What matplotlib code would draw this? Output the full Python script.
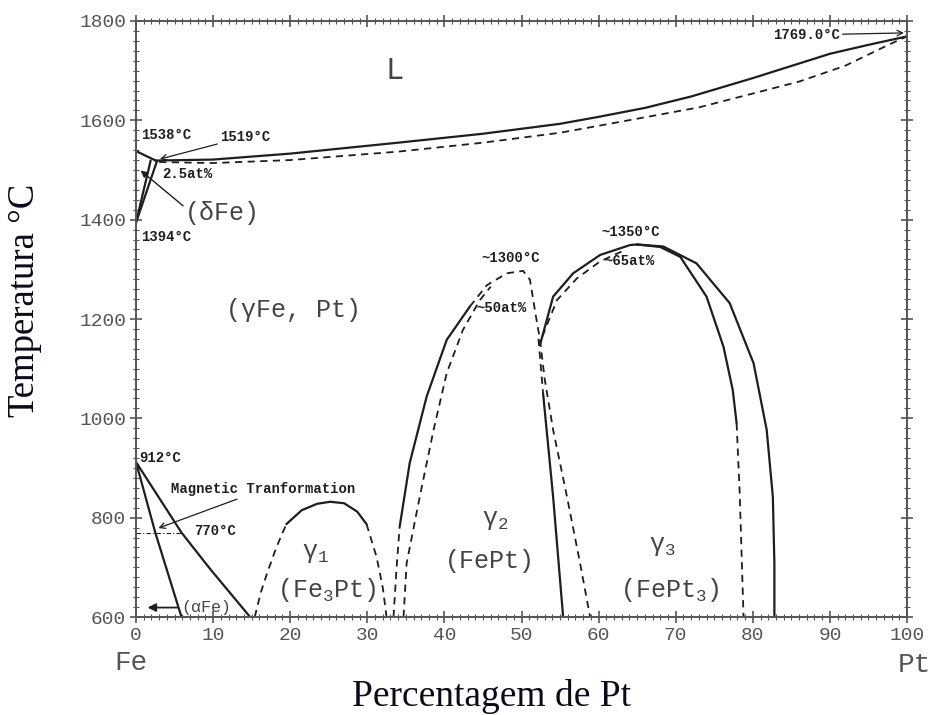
import matplotlib
matplotlib.use("Agg")
import matplotlib.pyplot as plt
from matplotlib.ticker import MultipleLocator

plt.rcParams['mathtext.fontset'] = 'custom'
plt.rcParams['mathtext.rm'] = 'Liberation Mono'
plt.rcParams['mathtext.it'] = 'Liberation Mono'

MONO = 'Liberation Mono'
SERIF = 'Liberation Serif'
INK = '#1e1e1e'
GREY = '#555555'

# liquidus (solid) and solidus (dashed), at% Pt vs degC
liq_x = [2.5, 10, 20, 34, 45, 55, 60, 66, 72, 80, 90, 95, 100]
liq_t = [1519, 1521, 1533, 1555, 1573, 1593, 1607, 1625, 1648, 1685, 1734, 1752, 1769]
sol_x = [3, 10, 20, 34, 45, 55, 60, 73, 86, 92, 98, 100]
sol_t = [1516, 1514, 1520, 1537, 1555, 1575, 1589, 1626, 1678, 1710, 1755, 1769]

# delta Fe corner
dl_x = [0, 2.7]
dl_t = [1538, 1518]
dg1_x = [0, 1.9]
dg1_t = [1394, 1519]
dg2_x = [0, 2.7]
dg2_t = [1394, 1517]

# alpha Fe boundaries
a_in_x = [0, 2.5, 5.9]
a_in_t = [912, 770, 600]
a_out_x = [0, 5.9, 9.6, 14.8]
a_out_t = [912, 770, 697, 600]
mag_x = [0, 5.9]
mag_t = [770, 770]

# gamma1 (Fe3Pt)
g1l_x = [15.4, 16.2, 17.0, 18.2, 19.5]
g1l_t = [600, 650, 688, 740, 787]
g1s_x = [19.5, 21.5, 23.5, 25.2, 27.0, 28.7, 29.9]
g1s_t = [787, 815, 828, 832, 829, 812, 787]
g1r_x = [29.9, 31.2, 32.0, 32.5]
g1r_t = [787, 721, 660, 600]

# gamma2 (FePt)
g2a_x = [33.4, 33.8, 34.2]
g2a_t = [600, 700, 782]
g2b_x = [34.2, 35.5, 37.7, 40.3, 43.3]
g2b_t = [782, 910, 1044, 1158, 1225]
g2c_x = [43.3, 45.5, 48.1, 50.2, 51.1, 51.8, 52.4]
g2c_t = [1225, 1268, 1292, 1297, 1279, 1212, 1158]
g2d_x = [34.7, 35.1, 36.8, 38.6, 40.3, 42.4, 44.6, 46.0]
g2d_t = [600, 708, 842, 977, 1091, 1178, 1238, 1265]
g2e_x = [52.2, 52.8]
g2e_t = [1160, 1050]
g2f_x = [52.8, 54.1, 55.4]
g2f_t = [1050, 842, 600]
g2g_x = [52.4, 53.0, 54.1, 55.9, 57.6, 58.9]
g2g_t = [1158, 1080, 977, 842, 708, 600]

# gamma3 (FePt3)
g3a_x = [52.4, 54.1, 56.7, 60.2, 64.1, 65.0]
g3a_t = [1148, 1245, 1292, 1329, 1349, 1350]
g3b_x = [52.7, 54.6, 57.2, 60.2, 63.0]
g3b_t = [1165, 1238, 1282, 1316, 1336]
g3c_x = [65.0, 68.0, 70.6, 74.0, 76.2, 77.4, 77.9]
g3c_t = [1350, 1345, 1325, 1245, 1144, 1057, 990]
g3d_x = [77.9, 78.3, 78.6, 78.8]
g3d_t = [990, 850, 700, 600]
g3e_x = [65.0, 68.4, 72.7, 77.0, 80.1, 81.8, 82.6, 82.8, 82.8]
g3e_t = [1350, 1346, 1312, 1232, 1111, 977, 842, 708, 600]

solid_lines = [(liq_x, liq_t), (dl_x, dl_t), (dg1_x, dg1_t), (dg2_x, dg2_t),
               (a_in_x, a_in_t), (a_out_x, a_out_t), (g1s_x, g1s_t),
               (g2b_x, g2b_t), (g2f_x, g2f_t), (g3a_x, g3a_t),
               (g3c_x, g3c_t), (g3e_x, g3e_t)]
dashed_lines = [(sol_x, sol_t), (g1l_x, g1l_t), (g1r_x, g1r_t),
                (g2a_x, g2a_t), (g2c_x, g2c_t), (g2d_x, g2d_t),
                (g2e_x, g2e_t), (g2g_x, g2g_t), (g3b_x, g3b_t), (g3d_x, g3d_t)]

fig = plt.figure(figsize=(9.31, 7.15), dpi=100)
ax = fig.add_axes([136 / 931, 1 - 617 / 715, 771 / 931, 596 / 715])

for xs, ts in solid_lines:
    ax.plot(xs, ts, color=INK, lw=1.6, solid_capstyle='round')
for xs, ts in dashed_lines:
    ax.plot(xs, ts, color=INK, lw=1.3, ls=(0, (4, 3)))
ax.plot(mag_x, mag_t, color=INK, lw=0.8, ls=(0, (4, 2, 1, 2)))

ax.set_xlim(0, 100)
ax.set_ylim(600, 1800)
ax.xaxis.set_major_locator(MultipleLocator(10))
ax.xaxis.set_minor_locator(MultipleLocator(1))
ax.yaxis.set_major_locator(MultipleLocator(200))
ax.yaxis.set_minor_locator(MultipleLocator(20))
ax.tick_params(which='both', direction='inout', top=True, right=True,
               colors=GREY, labelcolor=GREY)
ax.tick_params(which='major', length=8, width=1.2, labelsize=14, pad=3)
ax.tick_params(which='minor', length=4, width=0.8)
for lab in ax.get_xticklabels() + ax.get_yticklabels():
    lab.set_fontfamily(MONO)
for sp in ax.spines.values():
    sp.set_color(GREY)
    sp.set_linewidth(1.4)

# axis titles
fig.text(25 / 931, 1 - 300 / 715, 'Temperatura °C', fontfamily=SERIF,
         fontsize=26.5, rotation=90, ha='center', va='center', color='#0a0a18')
fig.text(492 / 931, 1 - 697 / 715, 'Percentagem de Pt', fontfamily=SERIF,
         fontsize=27, ha='center', va='center', color='#0a0a18')
fig.text(131 / 931, 1 - 663 / 715, 'Fe', fontfamily=MONO, fontsize=20,
         color=GREY, ha='center', va='center')
fig.text(914 / 931, 1 - 665 / 715, 'Pt', fontfamily=MONO, fontsize=20,
         color=GREY, ha='center', va='center')

# phase labels
big = dict(fontfamily=MONO, fontsize=18, color='#444444', ha='center', va='center')
ax.text(33.5, 1700, 'L', fontfamily=MONO, fontsize=22, color='#444444', va='center', ha='center')
ax.text(6.3, 1413, '(δFe)', **dict(big, ha='left'))
ax.text(20.4, 1218, '(γFe, Pt)', **big)
ax.text(23.3, 729, 'γ$_1$', **big)
ax.text(24.7, 655, '(Fe$_3$Pt)', **big)
ax.text(46.6, 795, 'γ$_2$', **big)
ax.text(45.9, 712, '(FePt)', **big)
ax.text(68.3, 742, 'γ$_3$', **big)
ax.text(69.2, 655, '(FePt$_3$)', **big)

# point annotations
note = dict(fontfamily=MONO, fontsize=10, fontweight='bold', color=INK,
            ha='left', va='center')
arrow = dict(arrowstyle='->', color=INK, lw=0.9, shrinkA=0, shrinkB=0)
ax.text(0.6, 1570, '1538°C', **note)
ax.annotate('1519°C', xy=(3.1, 1522), xytext=(10.9, 1567), arrowprops=arrow, **note)
ax.text(3.4, 1492, '2.5at%', **note)
ax.annotate('', xy=(0.6, 1499), xytext=(6.1, 1428),
            arrowprops=dict(arrowstyle='-|>', color=INK, lw=1.0, shrinkA=0, shrinkB=0))
ax.text(0.7, 1365, '1394°C', **note)
ax.text(0.4, 920, '912°C', **note)
ax.annotate('Magnetic Tranformation', xy=(2.9, 779), xytext=(4.6, 857),
            arrowprops=arrow, **note)
ax.text(7.5, 773, '770°C', **note)
ax.annotate('(αFe)', xy=(1.5, 619), xytext=(5.9, 619), fontfamily=MONO,
            fontsize=12, color='#444444', ha='left', va='center',
            arrowprops=dict(arrowstyle='-|>', color=INK, lw=1.3, shrinkA=1, shrinkB=0))
ax.text(44.8, 1322, '~1300°C', **note)
ax.text(44.2, 1222, '~50at%', **note)
ax.text(60.4, 1376, '~1350°C', **note)
ax.text(60.8, 1316, '~65at%', **note)
ax.annotate('1769.0°C', xy=(99.6, 1776), xytext=(82.6, 1772), arrowprops=arrow, **note)

fig.savefig('out.png', dpi=100)
